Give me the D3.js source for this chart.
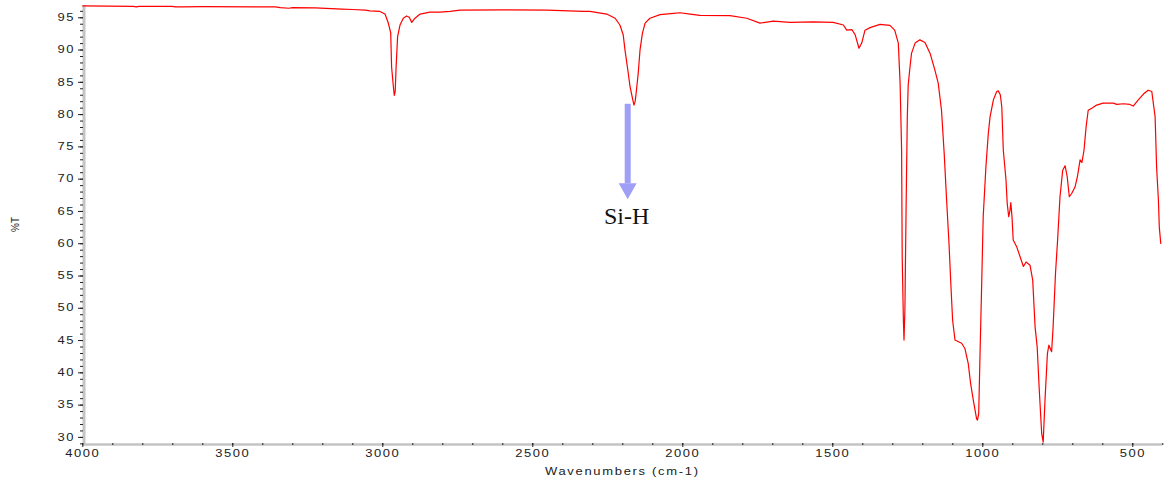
<!DOCTYPE html>
<html><head><meta charset="utf-8">
<script src="https://cdn.jsdelivr.net/npm/d3@7"></script>
<style>body{margin:0;background:#fff;overflow:hidden}</style>
</head><body>
<svg id="c" width="1174" height="483"></svg>
<script>
// ---- data ----
const wavenumbers = [4000,3830,3820,3810,3700,3690,3670,3600,3400,3357,3340,3311,3300,3224,3134,3100,3057,3041,3008,
2991,2980,2972,2969,2963,2960,2957,2954,2949,2941,2930,2919,2910,2902,2891,2874,2841,2808,2774,2741,2600,2450,2331,2308,
2252,2224,2208,2197,2191,2183,2174,2165,2161,2157,2154,2147,2141,2133,2124,2108,2074,2030,2008,1974,1941,1841,1785,1741,
1697,1641,1563,1497,1463,1452,1435,1424,1411,1402,1391,1374,1341,1308,1292,1280,1274,1269,1267,1263,1261,1258,1254,1250,
1247,1241,1236,1224,1208,1191,1174,1158,1147,1136,1127,1119,1111,1105,1099,1091,1069,1058,1047,1039,1030,1019,1016,1012,
1008,1002,997,988,980,974,963,952,947,940,935,930,921,917,912,908,905,901,897,885,874,863,854,841,832,824,817,810,802,797,
791,783,778,769,764,756,749,741,732,724,717,710,702,691,683,674,668,661,654,647,635,619,597,563,552,530,508,497,480,463,
447,435,430,424,419,413,410,405];
const transmittance = [96.75,96.7,96.6,96.7,96.7,96.6,96.6,96.65,96.6,96.6,96.5,96.4,96.5,96.45,96.25,96.2,96.1,96.0,95.9,
95.5,94.1,92.6,87.3,84.2,82.9,83.5,87.3,92.0,93.8,94.85,95.2,95.0,94.2,94.85,95.5,95.8,95.8,95.9,96.1,96.15,96.1,95.9,95.9,
95.5,94.85,93.8,92.3,89.9,87.3,84.2,82.2,81.4,82.0,83.2,86.3,89.9,92.5,94.1,94.85,95.4,95.6,95.7,95.5,95.3,95.25,94.85,94.1,
94.4,94.2,94.3,94.2,93.8,93.0,93.1,92.3,90.2,91.0,93.0,93.4,93.9,93.75,93.0,91.0,84.8,74.4,57.9,48.0,45.0,49.6,65.6,79.6,
84.5,87.3,89.4,91.0,91.5,91.1,89.4,86.8,84.8,80.6,73.9,66.7,60.0,53.8,48.1,45.0,44.5,43.7,41.4,38.3,35.7,32.8,32.6,33.6,
41.9,53.8,64.1,71.8,77.0,79.6,82.2,83.5,83.6,83.0,81.1,74.4,69.8,66.2,64.1,65.0,66.3,64.1,60.5,59.4,57.9,56.4,57.1,56.6,54.3,47.0,43.9,37.2,30.5,29.2,
35.7,42.9,44.2,43.2,47.0,55.3,60.5,67.2,71.3,72.0,70.3,67.2,67.7,68.7,70.3,72.9,72.5,74.4,78.0,80.6,80.9,81.4,81.7,81.7,81.5,81.6,81.5,81.25,82.2,83.1,
83.7,83.5,81.7,79.6,71.8,66.7,62.5,59.9];
const xTickValues = [4000,3500,3000,2500,2000,1500,1000,500];
const yTickValues = [30,35,40,45,50,55,60,65,70,75,80,85,90,95];
const xLabel = "Wavenumbers (cm-1)";
const yLabel = "%T";
const annotationLabel = "Si-H";
const annotationWavenumber = 2182;
const annotationFrom = 81.6;
const annotationTo = 66.8;
const annotationTextAt = 63.0;

// ---- layout ----
const svg = d3.select("#c");
const pLeft = 84, pRight = 1162.3, pTop = 5, pBottom = 444;
const x = d3.scaleLinear().domain([4000, 400]).range([82.3, pRight]);
const y = d3.scaleLinear().domain([28.9, 96.9]).range([pBottom, pTop]);
const textCol = "#222";
const sx = 1.3;
const sansFont = "'Liberation Sans', Arial, sans-serif";

// axis gray bars
svg.append("line").attr("x1", pLeft).attr("x2", pLeft).attr("y1", pTop).attr("y2", pBottom + 1.5)
  .attr("stroke", "#c4c4c4").attr("stroke-width", 3);
svg.append("line").attr("x1", pLeft - 1.5).attr("x2", pRight).attr("y1", pBottom + 0.5).attr("y2", pBottom + 0.5)
  .attr("stroke", "#c4c4c4").attr("stroke-width", 2.5);

// y minor ticks
const yMinor = d3.range(29, 97, 1);
const gyMinor = svg.append("g").attr("transform", `translate(${pLeft - 1},0)`)
  .call(d3.axisLeft(y).tickValues(yMinor).tickSize(3).tickFormat(""));
gyMinor.select(".domain").remove();
gyMinor.selectAll("line").attr("stroke", "#222");

// y major ticks + labels
const gy = svg.append("g").attr("transform", `translate(${pLeft - 1},0)`)
  .call(d3.axisLeft(y).tickValues(yTickValues).tickSize(5).tickFormat(d3.format("d")));
gy.select(".domain").remove();
gy.selectAll("line").attr("stroke", "#222");
gy.selectAll("text").attr("x", -8 / sx).attr("transform", `scale(${sx},1)`)
  .attr("fill", textCol).style("font-family", sansFont)
  .style("font-size", "10px").style("letter-spacing", "1.2px");

// x minor ticks
const xMinor = d3.range(4000, 399, -100);
const gxMinor = svg.append("g").attr("transform", `translate(0,${pBottom - 1})`)
  .call(d3.axisBottom(x).tickValues(xMinor).tickSize(2).tickFormat(""));
gxMinor.select(".domain").remove();
gxMinor.selectAll("line").attr("stroke", "#222");

// x major ticks + labels
const gx = svg.append("g").attr("transform", `translate(0,${pBottom - 1})`)
  .call(d3.axisBottom(x).tickValues(xTickValues).tickSize(4).tickFormat(d3.format("d")));
gx.select(".domain").remove();
gx.selectAll("line").attr("stroke", "#222");
gx.selectAll("text").attr("y", 7).attr("transform", `scale(${sx},1)`)
  .attr("fill", textCol).style("font-family", sansFont)
  .style("font-size", "10px").style("letter-spacing", "1.2px");

// axis titles
svg.append("text").attr("transform", `translate(${(82.3 + pRight) / 2},475) scale(${sx},1)`)
  .attr("text-anchor", "middle").attr("fill", textCol)
  .style("font-family", sansFont).style("font-size", "10px")
  .style("letter-spacing", "1.3px").text(xLabel);
svg.append("text").attr("transform", `translate(19,${(pTop + pBottom) / 2}) rotate(-90)`)
  .attr("text-anchor", "middle").attr("fill", textCol)
  .style("font-family", sansFont).style("font-size", "10px")
  .text(yLabel);

// spectrum line
const pts = wavenumbers.map((w, i) => [w, transmittance[i]]);
svg.append("path").datum(pts)
  .attr("d", d3.line().x(d => x(d[0])).y(d => y(d[1])))
  .attr("fill", "none").attr("stroke", "#ff0000").attr("stroke-width", 1.2)
  .attr("stroke-linejoin", "round");

// annotation arrow
const ax = x(annotationWavenumber);
const yStart = y(annotationFrom), yEnd = y(annotationTo);
const headLen = 16, headHalf = 9, shaftHalf = 3;
const arrowCol = "#9f9ff7";
svg.append("rect").attr("x", ax - shaftHalf).attr("y", yStart)
  .attr("width", shaftHalf * 2).attr("height", yEnd - headLen - yStart).attr("fill", arrowCol);
svg.append("path")
  .attr("d", `M${ax - headHalf},${yEnd - headLen}L${ax + headHalf},${yEnd - headLen}L${ax},${yEnd}Z`)
  .attr("fill", arrowCol);
svg.append("text").attr("x", ax - 1).attr("y", y(annotationTextAt))
  .attr("text-anchor", "middle").attr("fill", "#111")
  .style("font-family", "'Liberation Serif', 'DejaVu Serif', serif").style("font-size", "24px")
  .text(annotationLabel);
</script>
</body></html>
